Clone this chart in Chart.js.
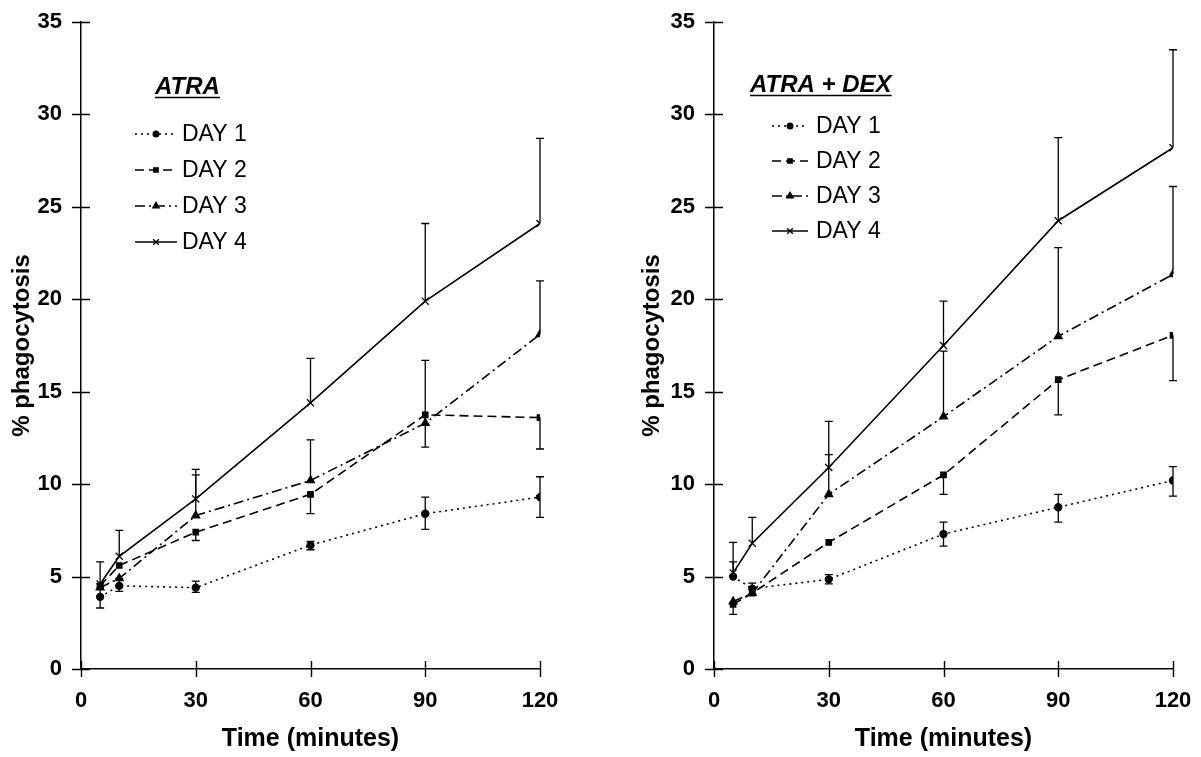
<!DOCTYPE html>
<html>
<head>
<meta charset="utf-8">
<script src="https://cdn.jsdelivr.net/npm/chart.js@4.4.0/dist/chart.umd.min.js"></script>
<style>
  html, body { margin: 0; padding: 0; background: #fff; }
  #wrap { position: relative; width: 1201px; height: 757px; }
  .panel { position: absolute; top: 0; height: 757px; }
</style>
</head>
<body>
<div id="wrap">
  <div class="panel" style="left:0;width:600px"><canvas id="atraChart" width="600" height="757"></canvas></div>
  <div class="panel" style="left:600px;width:601px"><canvas id="dexChart" width="601" height="757"></canvas></div>
</div>
<script>
/* --------------------------------------------
   Data
-------------------------------------------- */
const times = [5, 10, 30, 60, 90, 120];
const xTicks = [0, 30, 60, 90, 120];
const yTicks = [0, 5, 10, 15, 20, 25, 30, 35];
const dayLabels = ["DAY 1", "DAY 2", "DAY 3", "DAY 4"];

// ATRA
const atraDay1 = [3.9, 4.5, 4.4, 6.7, 8.4, 9.3];
const atraDay1Hi = [4.6, 4.9, 4.75, 6.9, 9.3, 10.4];
const atraDay1Lo = [3.3, 4.2, 4.15, 6.45, 7.55, 8.2];
const atraDay2 = [4.5, 5.6, 7.4, 9.45, 13.75, 13.6];
const atraDay2Lo = [null, null, 6.95, 8.4, 12.0, 11.9];
const atraDay3 = [4.4, 4.9, 8.3, 10.2, 13.3, 18.1];
const atraDay3Hi = [null, null, 10.5, 12.4, 16.7, 21.0];
const atraDay4 = [4.6, 6.1, 9.2, 14.4, 19.9, 24.1];
const atraDay4Hi = [5.8, 7.5, 10.8, 16.8, 24.1, 28.7];

// ATRA + DEX
const dexDay1 = [5.0, 4.35, 4.85, 7.3, 8.75, 10.2];
const dexDay1Hi = [5.8, 4.65, 5.1, 7.95, 9.45, 10.95];
const dexDay1Lo = [null, 4.05, 4.6, 6.65, 7.95, 9.35];
const dexDay2 = [3.5, 4.1, 6.85, 10.5, 15.65, 18.05];
const dexDay2Lo = [2.95, null, null, 9.45, 13.75, 15.6];
const dexDay3 = [3.65, 4.1, 9.45, 13.65, 18.0, 21.35];
const dexDay3Hi = [null, null, 11.6, 17.2, 22.8, 26.1];
const dexDay4 = [5.2, 6.8, 10.9, 17.5, 24.25, 28.2];
const dexDay4Hi = [6.85, 8.2, 13.4, 19.9, 28.75, 33.5];

/* --------------------------------------------
   Styles
-------------------------------------------- */
Chart.defaults.font.family = "'Liberation Sans', Arial, sans-serif";
Chart.defaults.color = "#000";

const dayStyles = [
  { dash: [2, 4], point: "circle", r: 3.5 },
  { dash: [9, 5], point: "rect", r: 3.8 },
  { dash: [10, 4, 2, 4], point: "triangle", r: 4.5 },
  { dash: [], point: "crossRot", r: 5 },
];

const makeSet = (i, values, hi, lo) => ({
  label: dayLabels[i],
  data: values.map((v, k) => ({ x: times[k], y: v })),
  errHi: hi,
  errLo: lo,
  borderColor: "#000",
  backgroundColor: "#000",
  borderWidth: 1.6,
  borderDash: dayStyles[i].dash,
  pointStyle: dayStyles[i].point,
  pointRadius: dayStyles[i].r,
  pointBorderWidth: 1.3,
  tension: 0,
  fill: false,
});

/* --------------------------------------------
   Plugins
-------------------------------------------- */
const errorBars = {
  id: "errorBars",
  afterDatasetsDraw(chart) {
    const { ctx, scales: { x, y } } = chart;
    ctx.save();
    ctx.strokeStyle = "#000";
    ctx.lineWidth = 1.3;
    ctx.setLineDash([]);
    chart.data.datasets.forEach((ds) => {
      ds.data.forEach((p, i) => {
        const px = x.getPixelForValue(p.x);
        const py = y.getPixelForValue(p.y);
        [ds.errHi && ds.errHi[i], ds.errLo && ds.errLo[i]].forEach((e) => {
          if (e == null) return;
          const ey = y.getPixelForValue(e);
          ctx.beginPath();
          ctx.moveTo(px, py);
          ctx.lineTo(px, ey);
          ctx.moveTo(px - 4, ey);
          ctx.lineTo(px + 4, ey);
          ctx.stroke();
        });
      });
    });
    ctx.restore();
  },
};

const crossTicks = {
  id: "crossTicks",
  afterDraw(chart) {
    const { ctx, chartArea: a, scales: { x, y } } = chart;
    ctx.save();
    ctx.strokeStyle = "#000";
    ctx.lineWidth = 1.4;
    ctx.beginPath();
    xTicks.forEach((v) => {
      const px = Math.round(x.getPixelForValue(v)) + 0.5;
      ctx.moveTo(px, a.bottom - 8);
      ctx.lineTo(px, a.bottom + 8);
    });
    yTicks.forEach((v) => {
      const py = Math.round(y.getPixelForValue(v)) + 0.5;
      ctx.moveTo(a.left - 9, py);
      ctx.lineTo(a.left + 9, py);
    });
    ctx.stroke();
    ctx.restore();
  },
};

const panelLegend = {
  id: "panelLegend",
  afterDraw(chart, args, o) {
    const ctx = chart.ctx;
    ctx.save();
    ctx.fillStyle = "#000";
    ctx.strokeStyle = "#000";
    ctx.font = "italic bold 24px 'Liberation Sans', Arial, sans-serif";
    ctx.textBaseline = "alphabetic";
    ctx.fillText(o.title, o.titleX, o.titleY);
    const w = ctx.measureText(o.title).width;
    ctx.lineWidth = 1.6;
    ctx.beginPath();
    ctx.moveTo(o.titleX, o.titleY + 3.5);
    ctx.lineTo(o.titleX + w, o.titleY + 3.5);
    ctx.stroke();

    ctx.font = "23px 'Liberation Sans', Arial, sans-serif";
    ctx.textBaseline = "middle";
    chart.data.datasets.forEach((ds, i) => {
      const yy = o.rowY + i * o.rowGap;
      ctx.lineWidth = 1.4;
      ctx.setLineDash(ds.borderDash);
      ctx.beginPath();
      ctx.moveTo(o.lineX0, yy);
      ctx.lineTo(o.lineX1, yy);
      ctx.stroke();
      ctx.setLineDash([]);
      Chart.helpers.drawPoint(ctx, { pointStyle: ds.pointStyle, radius: ds.pointRadius * 0.8, borderWidth: 1.2, rotation: 0 }, (o.lineX0 + o.lineX1) / 2, yy);
      ctx.fillText(ds.label, o.textX, yy + 1);
    });
    ctx.restore();
  },
};

/* --------------------------------------------
   Chart builder
-------------------------------------------- */
const renderPanel = (id, datasets, yAxisWidth, padRight, yTitlePad, legend) =>
  new Chart(document.getElementById(id), {
    type: "line",
    data: { datasets },
    plugins: [errorBars, crossTicks, panelLegend],
    options: {
      responsive: false,
      animation: false,
      layout: { padding: { top: 22, right: padRight, bottom: 0, left: 0 } },
      plugins: {
        legend: { display: false },
        tooltip: { enabled: false },
        panelLegend: legend,
      },
      scales: {
        x: {
          type: "linear",
          min: 0,
          max: 120,
          afterFit: (s) => {
            s.height = 88;
            s.paddingLeft = 0;
            s.paddingRight = 0;
          },
          afterBuildTicks: (s) => { s.ticks = xTicks.map((v) => ({ value: v })); },
          grid: { display: false, drawTicks: false },
          border: { display: true, color: "#000", width: 1.5 },
          ticks: { padding: 19, font: { size: 22, weight: "bold" }, color: "#000" },
          title: {
            display: true,
            text: "Time (minutes)",
            font: { size: 25, weight: "bold" },
            color: "#000",
            padding: { top: 0, bottom: 3 },
          },
        },
        y: {
          min: 0,
          max: 35,
          afterFit: (s) => {
            s.width = yAxisWidth;
            s.paddingTop = 0;
            s.paddingBottom = 0;
          },
          afterBuildTicks: (s) => { s.ticks = yTicks.map((v) => ({ value: v })); },
          grid: { display: false, drawTicks: false },
          border: { display: true, color: "#000", width: 1.5 },
          ticks: { padding: 19, font: { size: 22, weight: "bold" }, color: "#000" },
          title: {
            display: true,
            text: "% phagocytosis",
            font: { size: 24, weight: "bold" },
            color: "#000",
            padding: { top: yTitlePad, bottom: 0 },
          },
        },
      },
    },
  });

/* --------------------------------------------
   Boot
-------------------------------------------- */
renderPanel(
  "atraChart",
  [
    makeSet(0, atraDay1, atraDay1Hi, atraDay1Lo),
    makeSet(1, atraDay2, null, atraDay2Lo),
    makeSet(2, atraDay3, atraDay3Hi, null),
    makeSet(3, atraDay4, atraDay4Hi, null),
  ],
  81, 60, 8,
  { title: "ATRA", titleX: 155, titleY: 94, lineX0: 135, lineX1: 177, textX: 182, rowY: 134, rowGap: 36 }
);

renderPanel(
  "dexChart",
  [
    makeSet(0, dexDay1, dexDay1Hi, dexDay1Lo),
    makeSet(1, dexDay2, null, dexDay2Lo),
    makeSet(2, dexDay3, dexDay3Hi, null),
    makeSet(3, dexDay4, dexDay4Hi, null),
  ],
  114, 28, 38,
  { title: "ATRA + DEX", titleX: 150, titleY: 92, lineX0: 172, lineX1: 208, textX: 216, rowY: 126, rowGap: 35 }
);
</script>
</body>
</html>
